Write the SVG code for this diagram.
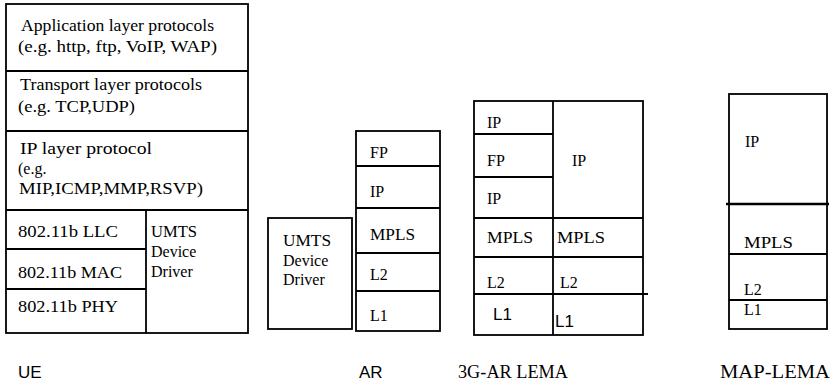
<svg xmlns="http://www.w3.org/2000/svg" width="837" height="390" viewBox="0 0 837 390">
<style>
.b{fill:none;stroke:#000;stroke-width:1.8}
.l{stroke:#000;stroke-width:1.8}
.t{font-family:"Liberation Serif","Times New Roman",serif;font-size:16px;fill:#000}
.s{font-family:"Liberation Sans",Arial,sans-serif;font-size:17px;fill:#000}
.lab{font-family:"Liberation Serif","Times New Roman",serif;font-size:18px;fill:#000}
</style>
<rect width="837" height="390" fill="#fff"/>
<g id="UE">
<rect class="b" x="6" y="4" width="242" height="329"/>
<line class="l" x1="6" y1="71" x2="248" y2="71"/>
<line class="l" x1="6" y1="131" x2="248" y2="131"/>
<line class="l" x1="6" y1="210" x2="248" y2="210"/>
<line class="l" x1="146" y1="210" x2="146" y2="333"/>
<line class="l" x1="6" y1="249" x2="146" y2="249"/>
<line class="l" x1="6" y1="289" x2="146" y2="289"/>
<text class="t" x="21" y="31" textLength="193" lengthAdjust="spacingAndGlyphs">Application layer protocols</text>
<text class="t" x="18" y="52" textLength="199" lengthAdjust="spacingAndGlyphs">(e.g. http, ftp, VoIP, WAP)</text>
<text class="t" x="20" y="90" textLength="182" lengthAdjust="spacingAndGlyphs">Transport layer protocols</text>
<text class="t" x="18" y="112" textLength="117" lengthAdjust="spacingAndGlyphs">(e.g. TCP,UDP)</text>
<text class="t" x="20" y="154" textLength="132" lengthAdjust="spacingAndGlyphs">IP layer protocol</text>
<text class="t" x="18" y="174">(e.g.</text>
<text class="t" x="19" y="194" textLength="184" lengthAdjust="spacingAndGlyphs">MIP,ICMP,MMP,RSVP)</text>
<text class="t" x="18" y="237" textLength="100" lengthAdjust="spacingAndGlyphs">802.11b LLC</text>
<text class="t" x="18" y="278" textLength="104" lengthAdjust="spacingAndGlyphs">802.11b MAC</text>
<text class="t" x="18" y="312" textLength="100" lengthAdjust="spacingAndGlyphs">802.11b PHY</text>
<text class="t" x="151" y="237" textLength="46" lengthAdjust="spacingAndGlyphs">UMTS</text>
<text class="t" x="151" y="257">Device</text>
<text class="t" x="151" y="277">Driver</text>
<text class="s" x="18" y="378">UE</text>
</g>
<g id="AR">
<rect class="b" x="268" y="218" width="84" height="111"/>
<text class="t" x="283" y="246" textLength="48" lengthAdjust="spacingAndGlyphs">UMTS</text>
<text class="t" x="283" y="266">Device</text>
<text class="t" x="283" y="285">Driver</text>
<rect class="b" x="356" y="131" width="84" height="200"/>
<line class="l" x1="356" y1="166" x2="440" y2="166"/>
<line class="l" x1="356" y1="208" x2="440" y2="208"/>
<line class="l" x1="356" y1="253" x2="440" y2="253"/>
<line class="l" x1="356" y1="291" x2="440" y2="291"/>
<text class="t" x="370" y="158">FP</text>
<text class="t" x="370" y="197">IP</text>
<text class="t" x="370" y="240" textLength="45" lengthAdjust="spacingAndGlyphs">MPLS</text>
<text class="t" x="370" y="280">L2</text>
<text class="t" x="370" y="321">L1</text>
<text class="s" x="359" y="378">AR</text>
</g>
<g id="AR3G-LEMA">
<rect class="b" x="474" y="101" width="169" height="234"/>
<line class="l" x1="553" y1="101" x2="553" y2="335"/>
<line class="l" x1="474" y1="134" x2="553" y2="134"/>
<line class="l" x1="474" y1="177" x2="553" y2="177"/>
<line class="l" x1="474" y1="218" x2="643" y2="218"/>
<line class="l" x1="474" y1="257" x2="643" y2="257"/>
<line class="l" x1="474" y1="294" x2="648" y2="294"/>
<text class="t" x="487" y="128">IP</text>
<text class="t" x="487" y="166">FP</text>
<text class="t" x="487" y="204">IP</text>
<text class="t" x="487" y="243" textLength="46" lengthAdjust="spacingAndGlyphs">MPLS</text>
<text class="t" x="487" y="288">L2</text>
<text class="s" x="493" y="320">L1</text>
<text class="t" x="572" y="166">IP</text>
<text class="t" x="557" y="243" textLength="48" lengthAdjust="spacingAndGlyphs">MPLS</text>
<text class="t" x="560" y="288">L2</text>
<text class="s" x="555" y="327">L1</text>
<text class="lab" x="458" y="378" textLength="110" lengthAdjust="spacingAndGlyphs">3G-AR LEMA</text>
</g>
<g id="MAP-LEMA">
<rect class="b" x="729" y="94" width="98" height="235"/>
<line class="l" x1="726" y1="204" x2="829" y2="204" style="stroke-width:2.4"/>
<line class="l" x1="729" y1="254" x2="827" y2="254"/>
<line class="l" x1="729" y1="300" x2="827" y2="300"/>
<text class="t" x="745" y="147">IP</text>
<text class="t" x="744" y="248" textLength="49" lengthAdjust="spacingAndGlyphs">MPLS</text>
<text class="t" x="744" y="295">L2</text>
<text class="t" x="744" y="315">L1</text>
<text class="lab" x="720" y="378" textLength="110" lengthAdjust="spacingAndGlyphs">MAP-LEMA</text>
</g>
<g id="connectors"></g>
</svg>
